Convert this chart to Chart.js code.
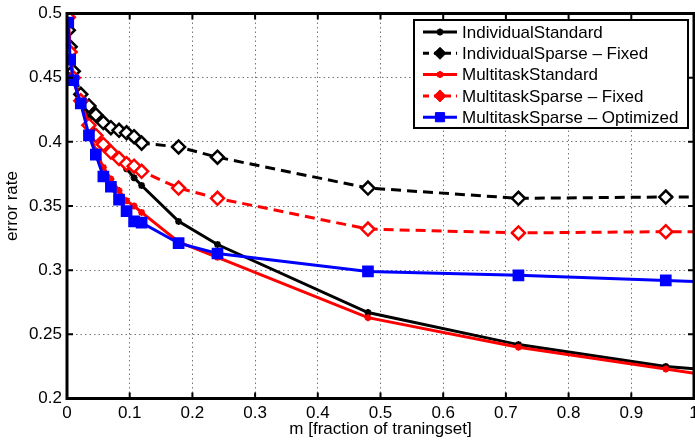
<!DOCTYPE html>
<html>
<head>
<meta charset="utf-8">
<script src="https://cdn.jsdelivr.net/npm/chart.js@4.4.1/dist/chart.umd.min.js"></script>
<style>
  html, body { margin: 0; padding: 0; background: #fff; }
  #wrap { width: 695px; height: 440px; }
</style>
</head>
<body>
<div id="wrap"><canvas id="c" width="695" height="440"></canvas></div>
<script>
// ---- data ----
const mValues = [0.002, 0.005, 0.010, 0.022, 0.035, 0.046, 0.058, 0.070, 0.083, 0.095, 0.107, 0.119, 0.178, 0.240, 0.480, 0.720, 0.955, 1.200];
const individualStandard      = [0.487, 0.470, 0.452, 0.432, 0.418, 0.407, 0.398, 0.391, 0.385, 0.379, 0.372, 0.366, 0.338, 0.320, 0.267, 0.242, 0.225, 0.215];
const individualSparseFixed   = [0.487, 0.474, 0.455, 0.437, 0.428, 0.421, 0.415, 0.411, 0.409, 0.407, 0.404, 0.399, 0.396, 0.388, 0.364, 0.356, 0.357, 0.357];
const multitaskStandard       = [0.497, 0.470, 0.448, 0.430, 0.408, 0.393, 0.380, 0.371, 0.362, 0.354, 0.350, 0.345, 0.322, 0.310, 0.263, 0.240, 0.223, 0.205];
const multitaskSparseFixed    = [0.497, 0.470, 0.450, 0.432, 0.413, 0.405, 0.398, 0.392, 0.387, 0.383, 0.381, 0.377, 0.364, 0.356, 0.332, 0.329, 0.330, 0.330];
const multitaskSparseOptimized= [0.493, 0.464, 0.448, 0.430, 0.405, 0.390, 0.373, 0.365, 0.355, 0.346, 0.338, 0.337, 0.321, 0.313, 0.299, 0.296, 0.292, 0.287];
const seriesNames = ['IndividualStandard', 'IndividualSparse \u2013 Fixed', 'MultitaskStandard', 'MultitaskSparse \u2013 Fixed', 'MultitaskSparse \u2013 Optimized'];
const xTicks = [0, 0.1, 0.2, 0.3, 0.4, 0.5, 0.6, 0.7, 0.8, 0.9, 1];
const yTicks = [0.2, 0.25, 0.3, 0.35, 0.4, 0.45, 0.5];
const xTitle = 'm [fraction of traningset]';
const yTitle = 'error rate';

const FONT = 'Liberation Sans, Arial, Helvetica, sans-serif';
const PLOT_RIGHT = 694;
const pts = arr => arr.map((v, i) => ({ x: mValues[i], y: v }));

function mk(label, data, color, dashed, pstyle, prad, pfill, order) {
  return {
    label, data: pts(data), borderColor: color, backgroundColor: pfill,
    borderWidth: 3, borderDash: dashed ? [10, 6] : [], tension: 0,
    pointStyle: pstyle, pointRadius: prad, pointHoverRadius: prad,
    pointBorderColor: color, pointBackgroundColor: pfill, pointBorderWidth: pstyle === 'star' ? 2 : 2.5,
    order, _dashed: dashed
  };
}

const datasets = [
  mk(seriesNames[0], individualStandard, '#000000', false, 'star', 3.5, '#000000', 5),
  mk(seriesNames[1], individualSparseFixed, '#000000', true, 'rectRot', 6.5, '#ffffff', 4),
  mk(seriesNames[2], multitaskStandard, '#ff0000', false, 'star', 3.5, '#ff0000', 3),
  mk(seriesNames[3], multitaskSparseFixed, '#ff0000', true, 'rectRot', 6.5, '#ffffff', 2),
  mk(seriesNames[4], multitaskSparseOptimized, '#0000ff', false, 'rect', 6.5, '#0000ff', 1)
];

// stretch the plot area to the right edge like the original figure
const stretchPlugin = {
  id: 'stretch',
  afterLayout(chart) {
    const x = chart.scales.x;
    x.right = PLOT_RIGHT;
    x.width = x.right - x.left;
    x.configure();
    chart.chartArea.right = PLOT_RIGHT;
    chart.chartArea.width = PLOT_RIGHT - chart.chartArea.left;
  }
};

const framePlugin = {
  id: 'frame',
  afterDatasetsDraw(chart) {
    const { ctx, chartArea: a, scales } = chart;
    ctx.save();
    ctx.strokeStyle = '#000';
    ctx.lineWidth = 2;
    ctx.setLineDash([]);
    const tl = 6;
    xTicks.forEach(t => {
      const x = scales.x.getPixelForValue(t);
      ctx.beginPath();
      ctx.moveTo(x, a.bottom); ctx.lineTo(x, a.bottom - tl);
      ctx.moveTo(x, a.top); ctx.lineTo(x, a.top + tl);
      ctx.stroke();
    });
    yTicks.forEach(t => {
      const y = scales.y.getPixelForValue(t);
      ctx.beginPath();
      ctx.moveTo(a.left, y); ctx.lineTo(a.left + tl, y);
      ctx.moveTo(a.right, y); ctx.lineTo(a.right - tl, y);
      ctx.stroke();
    });
    ctx.lineWidth = 3;
    ctx.strokeRect(a.left, a.top, a.right - a.left, a.bottom - a.top);
    ctx.restore();
  },
  afterDraw(chart) {
    const { ctx } = chart;
    ctx.save();
    const bx = 414, by = 20, bw = 274, bh = 108;
    ctx.fillStyle = '#fff';
    ctx.fillRect(bx, by, bw, bh);
    ctx.strokeStyle = '#000';
    ctx.lineWidth = 2;
    ctx.setLineDash([]);
    ctx.strokeRect(bx, by, bw, bh);
    chart.data.datasets.forEach((ds, i) => {
      const y = 32 + i * 21.3;
      ctx.strokeStyle = ds.borderColor;
      ctx.lineWidth = 3;
      ctx.setLineDash(ds._dashed ? [6, 5] : []);
      ctx.beginPath();
      ctx.moveTo(423, y); ctx.lineTo(457, y);
      ctx.stroke();
      ctx.setLineDash([]);
      const opts = {
        pointStyle: ds.pointStyle,
        radius: ds.pointStyle === 'rectRot' ? 6 : ds.pointRadius,
        borderWidth: ds.pointStyle === 'star' ? 2 : 1,
        rotation: 0
      };
      ctx.fillStyle = ds.borderColor;
      ctx.strokeStyle = ds.borderColor;
      ctx.lineWidth = opts.borderWidth;
      Chart.helpers.drawPoint(ctx, opts, 440, y);
      ctx.fillStyle = '#000';
      ctx.font = '17px ' + FONT;
      ctx.textBaseline = 'middle';
      ctx.textAlign = 'left';
      ctx.fillText(ds.label, 462, y + 1);
    });
    ctx.restore();
  }
};

new Chart(document.getElementById('c'), {
  type: 'line',
  data: { datasets },
  options: {
    responsive: false,
    animation: false,
    events: [],
    layout: { padding: { left: 0, right: 3, top: 13.5, bottom: 0 } },
    plugins: { legend: { display: false }, tooltip: { enabled: false } },
    scales: {
      x: {
        type: 'linear', min: 0, max: 1,
        afterFit(s) { s.height = 41.5; s.paddingRight = 0; s.paddingLeft = 0; },
        afterBuildTicks(s) { s.ticks = xTicks.map(v => ({ value: v })); },
        ticks: {
          padding: 5, color: '#000', maxRotation: 0, autoSkip: false,
          font: { family: FONT, size: 17 },
          callback: v => String(v)
        },
        grid: { color: 'rgba(60,60,60,0.7)', lineWidth: 1, drawTicks: false },
        border: { display: false, dash: [1.5, 3] },
        title: { display: true, text: xTitle, color: '#000', font: { family: FONT, size: 17 }, padding: { top: 0, bottom: 0 } }
      },
      y: {
        type: 'linear', min: 0.2, max: 0.5,
        afterFit(s) { s.width = 67; s.paddingTop = 0; s.paddingBottom = 0; },
        afterBuildTicks(s) { s.ticks = yTicks.map(v => ({ value: v })); },
        ticks: {
          padding: 5, color: '#000', autoSkip: false,
          font: { family: FONT, size: 17 },
          callback: v => String(Math.round(v * 100) / 100)
        },
        grid: { color: 'rgba(60,60,60,0.7)', lineWidth: 1, drawTicks: false },
        border: { display: false, dash: [1.5, 3] },
        title: { display: true, text: yTitle, color: '#000', font: { family: FONT, size: 17 }, padding: { top: 2, bottom: 0 } }
      }
    }
  },
  plugins: [stretchPlugin, framePlugin]
});
</script>
</body>
</html>
